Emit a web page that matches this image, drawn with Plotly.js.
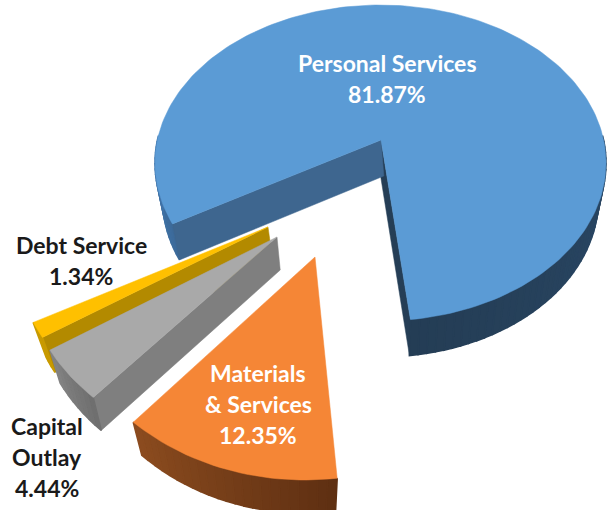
<!DOCTYPE html>
<html><head><meta charset="utf-8">
<script src="https://cdn.plot.ly/plotly-3.0.1.min.js"></script>
<style>html,body{margin:0;padding:0;background:#fff}#c{width:607px;height:510px}</style>
</head><body><div id="c"></div>
<script>
const categories = ['Personal Services','Materials & Services','Capital Outlay','Debt Service'];
const shares = [81.87,12.35,4.44,1.34];
const topColors = ['#5b9bd5','#f58636','#a9a9a9','#ffc000'];

// view geometry of each exploded wedge: hub, ellipse centre and radii, wall drop
const hubX = [381,315,277,268], hubY = [140,257,237,227];
const ctrX = [380.5,304.5,254,250], ctrY = [163,275,261,253];
const radA = [225.5,246,231,235], radB = [158,205,190,180];
const bottomScale = [0.966,0.95,0.95,0.94];
const drop = [36,33,33,35];
const startAngle = -6.5, skew = 10, rad = Math.PI/180;

const traces = [];
function poly(xs,ys,color,w){
  traces.push({type:'scatter',mode:'lines',x:xs.concat(xs[0]),y:ys.concat(ys[0]),fill:'toself',
    fillcolor:color,line:{width:w===undefined?0.5:w,color:color,shape:'linear'},hoverinfo:'skip',showlegend:false});
}
const view = t => t + skew*Math.sin(t*rad);
function arcPt(i,t,bottom){
  const s = bottom ? bottomScale[i] : 1, v = view(t)*rad;
  return [ctrX[i]-radA[i]*s*Math.sin(v), ctrY[i]+radB[i]*Math.cos(v)+(bottom?drop[i]:0)];
}
function mix(a,b,f){
  const p=c=>[1,3,5].map(k=>parseInt(c.substr(k,2),16));
  const A=p(a),B=p(b);
  return 'rgb('+A.map((v,k)=>Math.round(v+(B[k]-v)*f)).join(',')+')';
}
function outerWall(i,t0,t1,shade){
  const n=Math.max(2,Math.ceil(Math.abs(t1-t0)/2));
  for(let k=0;k<n;k++){
    const a=t0+(t1-t0)*k/n,b=t0+(t1-t0)*(k+1)/n;
    const p=[arcPt(i,a,false),arcPt(i,b,false),arcPt(i,b,true),arcPt(i,a,true)];
    poly(p.map(q=>q[0]),p.map(q=>q[1]),shade((k+.5)/n),1.6);
  }
}
function radialWall(i,t,color){
  const a=arcPt(i,t,false),b=arcPt(i,t,true);
  poly([hubX[i],a[0],b[0],hubX[i]+(b[0]-a[0])*0.4],[hubY[i],a[1],b[1],hubY[i]+drop[i]],color);
}
function topFace(i,t0,t1){
  const xs=[hubX[i]],ys=[hubY[i]];
  const n=Math.ceil(Math.abs(t1-t0)/1.5);
  for(let k=0;k<=n;k++){const p=arcPt(i,t0+(t1-t0)*k/n,false);xs.push(p[0]);ys.push(p[1]);}
  poly(xs,ys,topColors[i]);
}

// wedge angle ranges follow the shares, measured clockwise on screen from "down"
const deg = shares.map(v=>v/100*360);
const t1Start = startAngle, t1End = t1Start+deg[1], t2End = t1End+deg[2], t3End = t2End+deg[3];
const t0Start = t3End, t0End = t3End+deg[0];

// Personal Services
radialWall(0,t0End,'#253e56');
outerWall(0,t0Start,90,f=>mix('#3c6a99','#4278b0',f));
outerWall(0,270,t0End,f=>mix('#2a4866','#243d55',f));
radialWall(0,t0Start,'#3e668f');
topFace(0,t0Start,t0End);
// Debt Service
radialWall(3,t2End,'#b38a00');
outerWall(3,t2End,t3End,()=>'#c89a00');
topFace(3,t2End,t3End);
// Capital Outlay
radialWall(2,t1End,'#7f7f7f');
outerWall(2,t1End,t2End,f=>mix('#6e6e6e','#838383',f));
topFace(2,t1End,t2End);
// Materials & Services
outerWall(1,t1Start,t1End,f=>mix('#5e2f12','#8c4c1f',f));
topFace(1,t1Start,t1End);

const labelLines = [['Personal Services'],['Materials','& Services'],['Capital','Outlay'],['Debt Service']];
const labelColors = ['#ffffff','#ffffff','#1a1a1a','#1a1a1a'];
const labelX = [387,258,47,81];
const labelTop = [63,373,426,245];
const lineGap = 31;
const annotations=[];
categories.forEach((c,i)=>{
  labelLines[i].concat(shares[i].toFixed(2)+'%').forEach((t,k)=>{
    annotations.push({x:labelX[i],y:labelTop[i]+k*lineGap,text:t,showarrow:false,xanchor:'center',yanchor:'middle',
      font:{family:'Lato, "Open Sans", sans-serif',size:23,color:labelColors[i],weight:700}});
  });
});

Plotly.newPlot('c',traces,{
  width:607,height:510,margin:{l:0,r:0,t:0,b:0},
  paper_bgcolor:'#fff',plot_bgcolor:'#fff',showlegend:false,hovermode:false,
  xaxis:{range:[0,607],visible:false,fixedrange:true},
  yaxis:{range:[510,0],visible:false,fixedrange:true},
  annotations
},{displayModeBar:false,staticPlot:true});
</script></body></html>
